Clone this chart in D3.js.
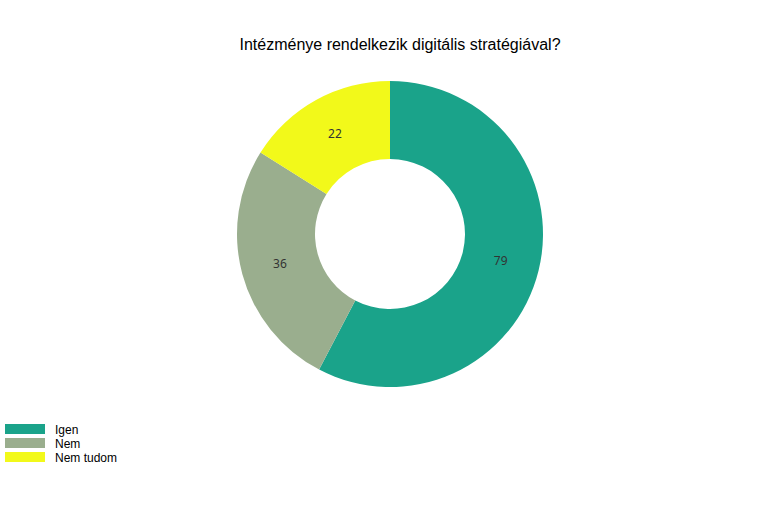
<!DOCTYPE html>
<html><head><meta charset="utf-8">
<script src="https://cdn.jsdelivr.net/npm/d3@7"></script>
<style>body{margin:0;background:#fff}svg{display:block}</style>
</head><body>
<script>
const categories = ["Igen", "Nem", "Nem tudom"];
const values = [79, 36, 22];
const colors = ["#1aa38a", "#9aae8e", "#f2f91a"];
const title = "Intézménye rendelkezik digitális stratégiával?";

const W = 780, H = 520;
const svg = d3.select("body").append("svg").attr("width", W).attr("height", H);

svg.append("text").attr("x", 400).attr("y", 50).attr("text-anchor", "middle")
  .attr("font-family", "Liberation Sans, Arial, sans-serif").attr("font-size", 16)
  .attr("fill", "#000").text(title);

const cx = 390, cy = 234, R = 153, r = 75;
const data = categories.map((c, i) => ({ cat: c, value: values[i], color: colors[i] }));
const pie = d3.pie().value(d => d.value).sort(null);
const arc = d3.arc().innerRadius(r).outerRadius(R);
const labelArc = d3.arc().innerRadius((R + r) / 2).outerRadius((R + r) / 2);
const g = svg.append("g").attr("transform", `translate(${cx},${cy})`);
const arcs = pie(data);
g.selectAll("path").data(arcs).join("path").attr("d", arc).attr("fill", d => d.data.color);
g.selectAll("text").data(arcs).join("text")
  .attr("transform", d => `translate(${labelArc.centroid(d)})`)
  .attr("text-anchor", "middle").attr("dy", "0.35em")
  .attr("font-family", "Noto Sans, sans-serif").attr("font-size", 12)
  .attr("fill", "#333").text(d => d.data.value);

const leg = svg.append("g");
data.forEach((d, i) => {
  const y = 424 + i * 14;
  leg.append("rect").attr("x", 5).attr("y", y).attr("width", 40).attr("height", 10).attr("fill", d.color);
  leg.append("text").attr("x", 55).attr("y", y + 9.5)
    .attr("font-family", "Liberation Sans, Arial, sans-serif").attr("font-size", 12)
    .attr("fill", "#000").text(d.cat);
});
</script>
</body></html>
